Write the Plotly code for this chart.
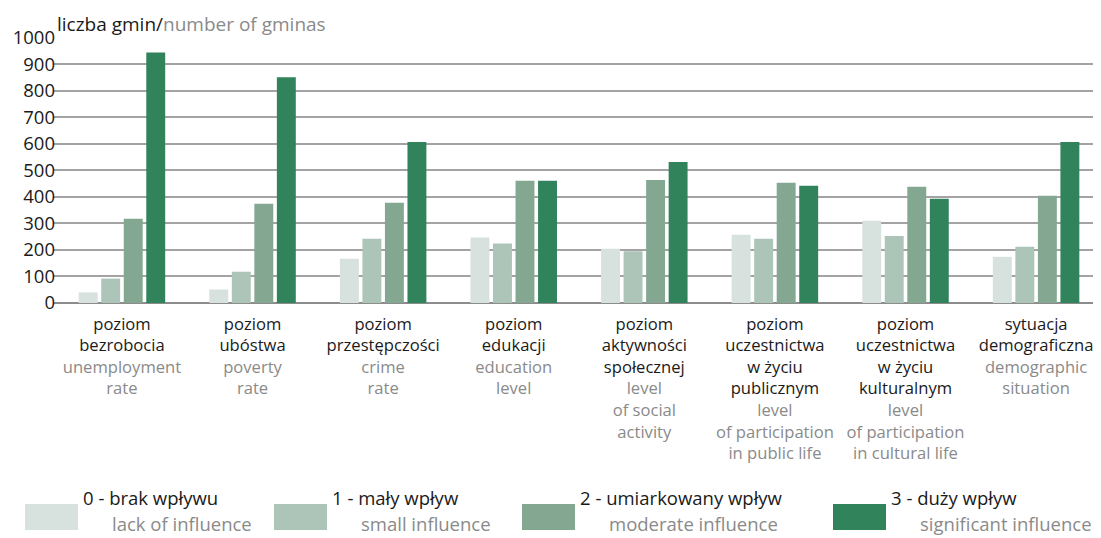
import plotly.graph_objects as go

# category labels: polish (black) + english (grey), one list entry per line
categories_pl = [
    ["poziom", "bezrobocia"],
    ["poziom", "ubóstwa"],
    ["poziom", "przestępczości"],
    ["poziom", "edukacji"],
    ["poziom", "aktywności", "społecznej"],
    ["poziom", "uczestnictwa", "w życiu", "publicznym"],
    ["poziom", "uczestnictwa", "w życiu", "kulturalnym"],
    ["sytuacja", "demograficzna"],
]
categories_en = [
    ["unemployment", "rate"],
    ["poverty", "rate"],
    ["crime", "rate"],
    ["education", "level"],
    ["level", "of social", "activity"],
    ["level", "of participation", "in public life"],
    ["level", "of participation", "in cultural life"],
    ["demographic", "situation"],
]

series_pl = ["0 - brak wpływu", "1 - mały wpływ", "2 - umiarkowany wpływ", "3 - duży wpływ"]
series_en = ["lack of influence", "small influence", "moderate influence", "significant influence"]

vals_0 = [40, 51, 167, 247, 205, 257, 310, 174]
vals_1 = [92, 118, 242, 224, 195, 242, 253, 212]
vals_2 = [318, 374, 378, 461, 464, 453, 438, 404]
vals_3 = [945, 851, 607, 461, 532, 442, 393, 607]

y_ticks = list(range(0, 1001, 100))

colors = ["#d7e1dd", "#adc4b8", "#84a792", "#31835b"]
GREY = "#8a8a8a"
FONT = "Open Sans"

# the page body has an 8px margin, so the figure is a bit smaller than the window
OFF = 8
W, H = 1101 - OFF, 538 - OFF
ML, MR, MT, MB = 53 - OFF, 0, 37 - OFF, 235
PW, PH = W - ML - MR, H - MT - MB


# page pixels -> paper coords
def px(x):
    return (x - OFF - ML) / PW


def py(y):
    return (H - MB - (y - OFF)) / PH


x = list(range(len(categories_pl)))
ticktext = []
for pl, en in zip(categories_pl, categories_en):
    lines = [f"<span style='color:#1a1a1a'>{s}</span>" for s in pl]
    lines += [f"<span style='color:{GREY}'>{s}</span>" for s in en]
    ticktext.append("<br>".join(lines))

fig = go.Figure()
for name, vals, c in zip(series_pl, [vals_0, vals_1, vals_2, vals_3], colors):
    fig.add_trace(go.Bar(x=x, y=vals, name=name, marker=dict(color=c, line=dict(width=0))))

# custom legend: big swatch, two-line label
sw_left = [25, 274, 522, 833]
shapes = []
annotations = []
for i, left in enumerate(sw_left):
    shapes.append(dict(type="rect", xref="paper", yref="paper",
                       x0=px(left), x1=px(left + 53), y0=py(530), y1=py(504),
                       fillcolor=colors[i], line=dict(width=0)))
    annotations.append(dict(xref="paper", yref="paper", x=px(left + 56), y=py(497),
                            xanchor="left", yanchor="middle", showarrow=False,
                            text=series_pl[i], font=dict(family=FONT, size=18.5, color="#1a1a1a")))
    annotations.append(dict(xref="paper", yref="paper", x=px(left + 85), y=py(523),
                            xanchor="left", yanchor="middle", showarrow=False,
                            text=series_en[i], font=dict(family=FONT, size=18.5, color=GREY)))

# axis title at top left
annotations.append(dict(xref="paper", yref="paper", x=px(55), y=py(24),
                        xanchor="left", yanchor="middle", showarrow=False,
                        text=f"liczba gmin/<span style='color:{GREY}'>number of gminas</span>",
                        font=dict(family=FONT, size=19, color="#1a1a1a")))

fig.update_layout(
    width=W, height=H,
    margin=dict(l=ML, r=MR, t=MT, b=MB),
    paper_bgcolor="white", plot_bgcolor="white",
    barmode="group", bargap=0.31, bargroupgap=0.16,
    showlegend=False,
    font=dict(family=FONT, color="#1a1a1a"),
    shapes=shapes, annotations=annotations,
)
fig.update_xaxes(
    range=[-0.528, 7.497], tickvals=x, ticktext=ticktext,
    showgrid=False, showline=False, ticks="",
    ticklabelstandoff=9,
    tickfont=dict(family=FONT, size=16.6),
)
fig.update_yaxes(
    range=[0, 1003], tickvals=y_ticks,
    showgrid=True, gridcolor="#a3a3a3", gridwidth=1.5,
    zeroline=True, zerolinecolor="#8c8c8c", zerolinewidth=2,
    ticks="", ticklabelstandoff=-3,
    tickfont=dict(family=FONT, size=18.5, color="#1a1a1a"),
)

fig.write_html("out.html")
